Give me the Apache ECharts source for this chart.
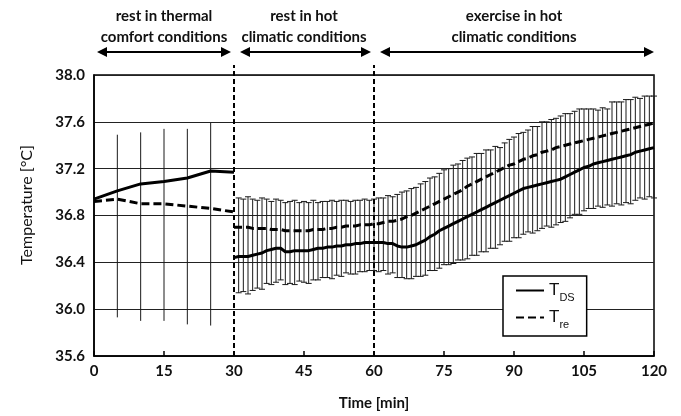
<!DOCTYPE html>
<html><head><meta charset="utf-8">
<script src="https://cdn.jsdelivr.net/npm/echarts@6/dist/echarts.min.js"></script>
<style>html,body{margin:0;padding:0;background:#fff}#c{width:681px;height:416px}</style>
</head><body><div id="c"></div>
<script>
// Phase definitions
const phaseStarts = [0, 30, 60];
const phaseEnds = [30, 60, 120];
const phaseLine1 = ['rest in thermal', 'rest in hot', 'exercise in hot'];
const phaseLine2 = ['comfort conditions', 'climatic conditions', 'climatic conditions'];
const phaseBounds = [30, 60];

// Phase 1 (every 5 min)
const times1 = [0, 5, 10, 15, 20, 25, 30];
const tds1 = [36.94, 37.01, 37.07, 37.09, 37.12, 37.18, 37.17];
const tre1 = [36.92, 36.94, 36.90, 36.90, 36.88, 36.86, 36.83];
const errTimes1 = [5, 10, 15, 20, 25];
const errLow1 = [35.93, 35.90, 35.90, 35.87, 35.86];
const errHigh1 = [37.49, 37.51, 37.54, 37.54, 37.59];

// Phases 2 and 3 (every minute, 30..120)
const times2 = [];
for (let t = 30; t <= 120; t++) times2.push(t);
const tds2 = [36.44,36.45,36.45,36.45,36.46,36.47,36.48,36.50,36.51,36.52,
  36.52,36.49,36.49,36.50,36.50,36.50,36.50,36.51,36.52,36.52,
  36.53,36.53,36.54,36.54,36.55,36.55,36.56,36.56,36.57,36.57,
  36.57,36.57,36.57,36.56,36.56,36.54,36.53,36.53,36.54,36.55,
  36.57,36.59,36.62,36.64,36.67,36.69,36.71,36.73,36.75,36.77,
  36.79,36.81,36.83,36.85,36.87,36.89,36.91,36.93,36.95,36.97,
  36.99,37.01,37.03,37.04,37.05,37.06,37.07,37.08,37.09,37.10,
  37.11,37.13,37.15,37.17,37.19,37.21,37.22,37.24,37.25,37.26,
  37.27,37.28,37.29,37.30,37.31,37.32,37.34,37.35,37.36,37.37,37.38];
const tre2 = [36.70,36.70,36.70,36.70,36.69,36.69,36.69,36.69,36.68,36.68,
  36.68,36.67,36.67,36.67,36.67,36.67,36.67,36.68,36.68,36.68,
  36.69,36.69,36.70,36.70,36.71,36.71,36.71,36.72,36.72,36.72,
  36.73,36.73,36.74,36.75,36.75,36.76,36.77,36.79,36.80,36.82,
  36.84,36.86,36.88,36.90,36.92,36.94,36.96,36.98,37.00,37.02,
  37.05,37.07,37.09,37.11,37.13,37.15,37.17,37.19,37.21,37.23,
  37.24,37.26,37.28,37.29,37.31,37.32,37.34,37.35,37.36,37.38,
  37.39,37.40,37.41,37.42,37.43,37.44,37.45,37.46,37.47,37.48,
  37.49,37.50,37.51,37.52,37.53,37.54,37.55,37.56,37.57,37.58,37.59];
// standard deviations for minutes 31..120
const sdDS = [0.31,0.30,0.32,0.30,0.29,0.31,0.28,0.30,0.29,0.27,
  0.28,0.27,0.29,0.26,0.27,0.28,0.26,0.27,0.25,0.26,
  0.27,0.25,0.26,0.24,0.25,0.26,0.24,0.25,0.24,0.24,
  0.25,0.24,0.26,0.25,0.27,0.26,0.27,0.28,0.27,0.29,
  0.30,0.29,0.31,0.32,0.31,0.33,0.34,0.33,0.35,0.36,
  0.35,0.37,0.36,0.38,0.37,0.39,0.38,0.37,0.39,0.38,
  0.40,0.39,0.38,0.40,0.39,0.38,0.37,0.39,0.38,0.37,
  0.38,0.37,0.36,0.38,0.37,0.36,0.38,0.37,0.39,0.38,
  0.40,0.39,0.41,0.40,0.42,0.41,0.40,0.42,0.41,0.43];
const sdRe = [0.25,0.24,0.26,0.25,0.24,0.26,0.25,0.24,0.26,0.25,
  0.24,0.25,0.26,0.24,0.25,0.24,0.25,0.23,0.24,0.23,
  0.24,0.22,0.23,0.22,0.21,0.22,0.21,0.22,0.21,0.21,
  0.22,0.21,0.22,0.21,0.22,0.23,0.22,0.23,0.22,0.23,
  0.23,0.24,0.23,0.24,0.25,0.24,0.25,0.24,0.25,0.24,
  0.23,0.24,0.22,0.23,0.21,0.22,0.19,0.21,0.22,0.23,
  0.24,0.23,0.24,0.25,0.24,0.26,0.25,0.26,0.25,0.26,
  0.27,0.26,0.27,0.28,0.27,0.26,0.25,0.23,0.24,0.22,
  0.27,0.26,0.25,0.26,0.25,0.26,0.24,0.25,0.24,0.23];

const yMin = 35.6, yMax = 38.0;

const pairs = (xs, ys) => xs.map((x, i) => [x, ys[i]]);
const errData = [];
errTimes1.forEach((t, i) => errData.push([t, errLow1[i], errHigh1[i], 0]));
for (let i = 1; i < times2.length; i++) {
  errData.push([times2[i], tds2[i] - sdDS[i - 1], tre2[i] + sdRe[i - 1], 1]);
}

const chart = echarts.init(document.getElementById('c'), null, {renderer: 'canvas'});
const FONT = 'Lato, "Open Sans", sans-serif';

const solidStyle = {color: '#000', width: 3, type: 'solid'};
const dashStyle = {color: '#000', width: 3, type: [8, 4]};

chart.setOption({
  animation: false,
  backgroundColor: '#fff',
  grid: {left: 94, right: 27, top: 75, bottom: 59, show: true, borderColor: '#000', borderWidth: 1.5, backgroundColor: 'transparent'},
  xAxis: {
    type: 'value', min: 0, max: 120, interval: 15,
    axisLine: {lineStyle: {color: '#000', width: 1.5}},
    axisTick: {inside: true, length: 5, lineStyle: {color: '#000', width: 1.5}},
    axisLabel: {margin: 8, fontFamily: FONT, fontWeight: 'bold', fontSize: 15, color: '#111'},
    splitLine: {show: false},
    name: 'Time [min]', nameLocation: 'middle', nameGap: 40,
    nameTextStyle: {fontFamily: FONT, fontWeight: 'bold', fontSize: 15, color: '#111'}
  },
  yAxis: {
    type: 'value', min: yMin, max: yMax, interval: 0.4,
    axisLine: {show: true, lineStyle: {color: '#000', width: 1.5}},
    axisTick: {show: false},
    axisLabel: {margin: 9, fontFamily: FONT, fontWeight: 'bold', fontSize: 15, color: '#111',
      formatter: v => v.toFixed(1)},
    splitLine: {lineStyle: {color: '#222', width: 1}}
  },
  legend: {
    data: ['T_DS', 'T_re'],
    orient: 'vertical', left: 503, top: 276,
    backgroundColor: '#fff', borderColor: '#000', borderWidth: 1.5,
    padding: [6, 12, 6, 12], itemWidth: 28, itemHeight: 14, itemGap: 6,
    itemStyle: {color: 'rgba(0,0,0,0)', borderWidth: 0, opacity: 0},
    formatter: n => n === 'T_DS' ? '{m|T}{s|DS}' : '{m|T}{s|re}',
    textStyle: {color: '#111', rich: {
      m: {fontFamily: 'Liberation Sans, Arial', fontSize: 17, color: '#111', verticalAlign: 'bottom'},
      s: {fontFamily: 'Liberation Sans, Arial', fontSize: 11, color: '#111', verticalAlign: 'bottom', padding: [0, 0, -4, 0]}
    }}
  },
  graphic: [{
    type: 'text', x: 27, y: 205, rotation: Math.PI / 2,
    style: {text: 'Temperature [°C]', x: 0, y: 0, align: 'center', verticalAlign: 'middle',
      font: '16px ' + FONT, fill: '#111'}
  }],
  series: [
    {
      type: 'custom', name: 'err', clip: false, z: 1, silent: true,
      data: errData, encode: {x: 0, y: [1, 2]},
      renderItem: (params, api) => {
        const t = api.value(0), lo = api.value(1), hi = api.value(2), cap = api.value(3);
        const p1 = api.coord([t, lo]), p2 = api.coord([t, hi]);
        const st = {stroke: '#1a1a1a', lineWidth: 1};
        const ch = [{type: 'line', shape: {x1: p1[0], y1: p1[1], x2: p2[0], y2: p2[1]}, style: st}];
        if (cap) {
          ch.push({type: 'line', shape: {x1: p1[0] - 3, y1: p1[1], x2: p1[0] + 3, y2: p1[1]}, style: st});
          ch.push({type: 'line', shape: {x1: p2[0] - 3, y1: p2[1], x2: p2[0] + 3, y2: p2[1]}, style: st});
        }
        return {type: 'group', children: ch};
      }
    },
    {type: 'line', name: 'T_DS', data: pairs(times1, tds1), symbol: 'none', lineStyle: solidStyle, itemStyle: {color: '#000'}, z: 3},
    {type: 'line', name: 'T_DS', data: pairs(times2, tds2), symbol: 'none', lineStyle: solidStyle, itemStyle: {color: '#000'}, z: 3},
    {type: 'line', name: 'T_re', data: pairs(times1, tre1), symbol: 'none', lineStyle: dashStyle, itemStyle: {color: '#000'}, z: 3},
    {type: 'line', name: 'T_re', data: pairs(times2, tre2), symbol: 'none', lineStyle: dashStyle, itemStyle: {color: '#000'}, z: 3},
    {
      type: 'custom', name: 'bounds', clip: false, z: 4, silent: true,
      data: phaseBounds.map(b => [b, yMin]), encode: {x: 0, y: 1},
      renderItem: (params, api) => {
        const b = api.value(0);
        const p1 = api.coord([b, yMin]), p2 = api.coord([b, yMax]);
        return {type: 'line', shape: {x1: p1[0], y1: p1[1], x2: p2[0], y2: p2[1] - 10},
          style: {stroke: '#000', lineWidth: 2, lineDash: [5, 3]}};
      }
    },
    {
      type: 'custom', name: 'phases', clip: false, z: 4, silent: true,
      data: phaseStarts.map((s, i) => [s, phaseEnds[i]]), encode: {x: [0, 1]},
      renderItem: (params, api) => {
        const i = params.dataIndex;
        const a = api.coord([api.value(0), yMax]), b = api.coord([api.value(1), yMax]);
        const x1 = a[0] + (i === 0 ? 3 : 6), x2 = b[0] - (i === 2 ? 0 : 3);
        const y = a[1] - 23, xm = (a[0] + b[0]) / 2;
        const fill = '#000';
        return {type: 'group', children: [
          {type: 'line', shape: {x1: x1 + 4, y1: y, x2: x2 - 4, y2: y}, style: {stroke: fill, lineWidth: 2}},
          {type: 'polygon', shape: {points: [[x1, y], [x1 + 10, y - 5], [x1 + 10, y + 5]]}, style: {fill}},
          {type: 'polygon', shape: {points: [[x2, y], [x2 - 10, y - 5], [x2 - 10, y + 5]]}, style: {fill}},
          {type: 'text', style: {text: phaseLine1[i], x: xm, y: a[1] - 59, align: 'center', verticalAlign: 'middle', font: 'bold 15px ' + FONT, fill: '#111'}},
          {type: 'text', style: {text: phaseLine2[i], x: xm, y: a[1] - 38, align: 'center', verticalAlign: 'middle', font: 'bold 15px ' + FONT, fill: '#111'}}
        ]};
      }
    }
  ]
});
</script></body></html>
